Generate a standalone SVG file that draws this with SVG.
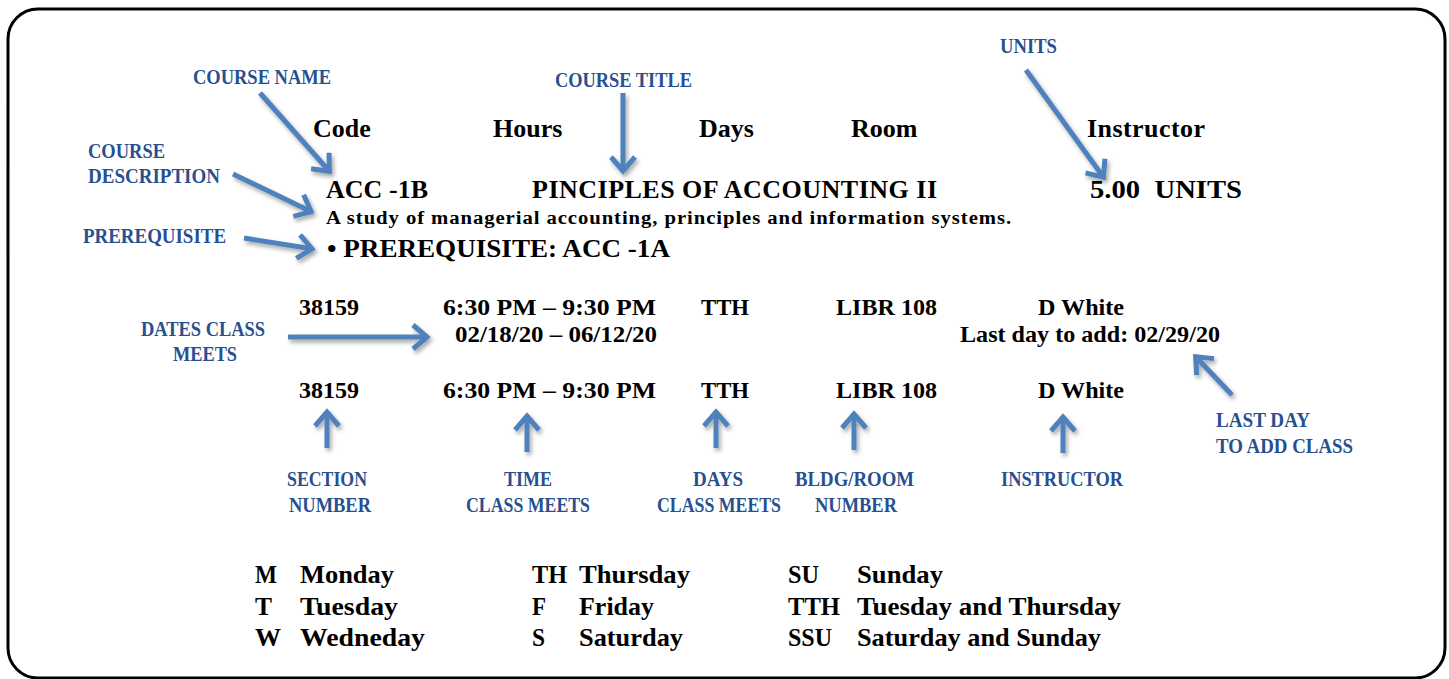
<svg xmlns="http://www.w3.org/2000/svg" width="1449" height="679" viewBox="0 0 1449 679">
<style>
.blk{font-family:"Liberation Serif","Times New Roman",serif;font-weight:bold;fill:#000}
.h{font-size:26px}
.r{font-size:24px}
.lbl{font-family:"Liberation Serif","Times New Roman",serif;font-weight:bold;font-size:20px;fill:#275090}
.leg{font-family:"Liberation Serif","Times New Roman",serif;font-weight:bold;font-size:25px;fill:#000}
.arr{fill:none;stroke:#4f81bd;stroke-width:5}
</style>
<defs>
<filter id="sh" x="-20%" y="-20%" width="140%" height="140%">
<feDropShadow dx="2" dy="3" stdDeviation="2" flood-color="#000" flood-opacity="0.35"/>
</filter>
<marker id="hd" markerUnits="userSpaceOnUse" viewBox="-20 -14 24 28" refX="0" refY="0" markerWidth="24" markerHeight="28" orient="auto">
<path d="M-15,-12 L-1,0 L-15,12" fill="none" stroke="#4f81bd" stroke-width="5" stroke-linejoin="miter"/>
</marker>
</defs>
<rect x="8" y="9" width="1437" height="669" rx="30" ry="30" fill="#fff" stroke="#000" stroke-width="3"/>

<g id="connectors" filter="url(#sh)">
<line class="arr" x1="260" y1="93" x2="330" y2="172" marker-end="url(#hd)"/>
<line class="arr" x1="233" y1="174" x2="312" y2="212" marker-end="url(#hd)"/>
<line class="arr" x1="244" y1="238" x2="313" y2="249" marker-end="url(#hd)"/>
<line class="arr" x1="623" y1="93" x2="623" y2="172" marker-end="url(#hd)"/>
<line class="arr" x1="1026" y1="70" x2="1104" y2="178" marker-end="url(#hd)"/>
<line class="arr" x1="288" y1="337" x2="428" y2="337" marker-end="url(#hd)"/>
<line class="arr" x1="327" y1="448" x2="327" y2="411" marker-end="url(#hd)"/>
<line class="arr" x1="527" y1="452" x2="527" y2="415" marker-end="url(#hd)"/>
<line class="arr" x1="716" y1="448" x2="716" y2="411" marker-end="url(#hd)"/>
<line class="arr" x1="854" y1="450" x2="854" y2="413" marker-end="url(#hd)"/>
<line class="arr" x1="1063" y1="453" x2="1063" y2="416" marker-end="url(#hd)"/>
<line class="arr" x1="1232" y1="395" x2="1195" y2="356" marker-end="url(#hd)"/>
</g>

<g id="header">
<text class="blk h" x="313" y="137">Code</text>
<text class="blk h" x="493" y="137">Hours</text>
<text class="blk h" x="699" y="137">Days</text>
<text class="blk h" x="851" y="137">Room</text>
<text class="blk h" x="1087" y="137" textLength="118">Instructor</text>
</g>

<g id="course">
<text class="blk h" x="326" y="198" textLength="102" xml:space="preserve">ACC -1B</text>
<text class="blk h" x="532" y="198" textLength="405">PINCIPLES OF ACCOUNTING II</text>
<text class="blk h" x="1090" y="198" textLength="152" lengthAdjust="spacingAndGlyphs" xml:space="preserve">5.00  UNITS</text>
<text class="blk" x="326" y="224" font-size="18" textLength="686" lengthAdjust="spacingAndGlyphs" letter-spacing="0.8">A study of managerial accounting, principles and information systems.</text>
<text class="blk" x="327" y="257" font-size="25" textLength="343" lengthAdjust="spacingAndGlyphs" xml:space="preserve">• PREREQUISITE: ACC -1A</text>
</g>

<g id="row1">
<text class="blk r" x="299" y="315" textLength="60">38159</text>
<text class="blk r" x="443" y="315" textLength="213" lengthAdjust="spacingAndGlyphs">6:30 PM – 9:30 PM</text>
<text class="blk r" x="701" y="315" textLength="48" lengthAdjust="spacingAndGlyphs">TTH</text>
<text class="blk r" x="836" y="315" textLength="101" lengthAdjust="spacingAndGlyphs">LIBR 108</text>
<text class="blk r" x="1038" y="315" textLength="86" lengthAdjust="spacingAndGlyphs">D White</text>
<text class="blk r" x="455" y="342" textLength="202" lengthAdjust="spacingAndGlyphs">02/18/20 – 06/12/20</text>
<text class="blk r" x="960" y="342" textLength="260" lengthAdjust="spacingAndGlyphs">Last day to add: 02/29/20</text>
</g>

<g id="row2">
<text class="blk r" x="299" y="398" textLength="60">38159</text>
<text class="blk r" x="443" y="398" textLength="213" lengthAdjust="spacingAndGlyphs">6:30 PM – 9:30 PM</text>
<text class="blk r" x="701" y="398" textLength="48" lengthAdjust="spacingAndGlyphs">TTH</text>
<text class="blk r" x="836" y="398" textLength="101" lengthAdjust="spacingAndGlyphs">LIBR 108</text>
<text class="blk r" x="1038" y="398" textLength="86" lengthAdjust="spacingAndGlyphs">D White</text>
</g>

<g id="label-course-name"><text class="lbl" x="193" y="84" textLength="138" lengthAdjust="spacingAndGlyphs">COURSE NAME</text></g>
<g id="label-course-title"><text class="lbl" x="555" y="87" textLength="137" lengthAdjust="spacingAndGlyphs">COURSE TITLE</text></g>
<g id="label-units"><text class="lbl" x="1000" y="53" textLength="57" lengthAdjust="spacingAndGlyphs">UNITS</text></g>
<g id="label-course-description">
<text class="lbl" x="88" y="158" textLength="77" lengthAdjust="spacingAndGlyphs">COURSE</text>
<text class="lbl" x="88" y="183" textLength="132" lengthAdjust="spacingAndGlyphs">DESCRIPTION</text>
</g>
<g id="label-prerequisite"><text class="lbl" x="83" y="243" textLength="143" lengthAdjust="spacingAndGlyphs">PREREQUISITE</text></g>
<g id="label-dates">
<text class="lbl" x="141" y="336" textLength="124" lengthAdjust="spacingAndGlyphs">DATES CLASS</text>
<text class="lbl" x="173" y="361" textLength="64" lengthAdjust="spacingAndGlyphs">MEETS</text>
</g>
<g id="label-section">
<text class="lbl" x="287" y="486" textLength="80" lengthAdjust="spacingAndGlyphs">SECTION</text>
<text class="lbl" x="289" y="512" textLength="82" lengthAdjust="spacingAndGlyphs">NUMBER</text>
</g>
<g id="label-time">
<text class="lbl" x="504" y="486" textLength="48" lengthAdjust="spacingAndGlyphs">TIME</text>
<text class="lbl" x="466" y="512" textLength="124" lengthAdjust="spacingAndGlyphs">CLASS MEETS</text>
</g>
<g id="label-days">
<text class="lbl" x="693" y="486" textLength="50" lengthAdjust="spacingAndGlyphs">DAYS</text>
<text class="lbl" x="657" y="512" textLength="124" lengthAdjust="spacingAndGlyphs">CLASS MEETS</text>
</g>
<g id="label-room">
<text class="lbl" x="795" y="486" textLength="119" lengthAdjust="spacingAndGlyphs">BLDG/ROOM</text>
<text class="lbl" x="815" y="512" textLength="82" lengthAdjust="spacingAndGlyphs">NUMBER</text>
</g>
<g id="label-instructor"><text class="lbl" x="1001" y="486" textLength="122" lengthAdjust="spacingAndGlyphs">INSTRUCTOR</text></g>
<g id="label-last-day">
<text class="lbl" x="1216" y="427" textLength="94" lengthAdjust="spacingAndGlyphs">LAST DAY</text>
<text class="lbl" x="1216" y="453" textLength="137" lengthAdjust="spacingAndGlyphs">TO ADD CLASS</text>
</g>

<g id="legend">
<text class="leg" x="255" y="583" textLength="22" lengthAdjust="spacingAndGlyphs">M</text>
<text class="leg" x="300" y="583" textLength="94" lengthAdjust="spacingAndGlyphs">Monday</text>
<text class="leg" x="255" y="615" textLength="17" lengthAdjust="spacingAndGlyphs">T</text>
<text class="leg" x="300" y="615" textLength="98" lengthAdjust="spacingAndGlyphs">Tuesday</text>
<text class="leg" x="255" y="646" textLength="26" lengthAdjust="spacingAndGlyphs">W</text>
<text class="leg" x="300" y="646" textLength="125" lengthAdjust="spacingAndGlyphs">Wedneday</text>
<text class="leg" x="532" y="583" textLength="35" lengthAdjust="spacingAndGlyphs">TH</text>
<text class="leg" x="579" y="583" textLength="111" lengthAdjust="spacingAndGlyphs">Thursday</text>
<text class="leg" x="532" y="615" textLength="14" lengthAdjust="spacingAndGlyphs">F</text>
<text class="leg" x="579" y="615" textLength="75" lengthAdjust="spacingAndGlyphs">Friday</text>
<text class="leg" x="532" y="646" textLength="13" lengthAdjust="spacingAndGlyphs">S</text>
<text class="leg" x="579" y="646" textLength="104" lengthAdjust="spacingAndGlyphs">Saturday</text>
<text class="leg" x="788" y="583" textLength="31" lengthAdjust="spacingAndGlyphs">SU</text>
<text class="leg" x="857" y="583" textLength="86" lengthAdjust="spacingAndGlyphs">Sunday</text>
<text class="leg" x="788" y="615" textLength="52" lengthAdjust="spacingAndGlyphs">TTH</text>
<text class="leg" x="857" y="615" textLength="264" lengthAdjust="spacingAndGlyphs">Tuesday and Thursday</text>
<text class="leg" x="788" y="646" textLength="44" lengthAdjust="spacingAndGlyphs">SSU</text>
<text class="leg" x="857" y="646" textLength="244" lengthAdjust="spacingAndGlyphs">Saturday and Sunday</text>
</g>
</svg>
